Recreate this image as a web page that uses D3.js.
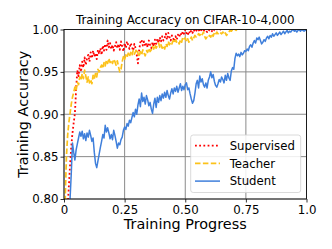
<!DOCTYPE html>
<meta charset="utf-8">
<script src="https://d3js.org/d3.v7.min.js"></script>
<style>
  body { margin: 0; background: #fff; }
  text { font-family: "DejaVu Sans", sans-serif; }
</style>
<div id="chart"></div>
<script>
// samples are logged every 0.005 of training progress
var stepSize = 0.005;

var supervised = [
  0.70,0.73,0.76,0.79,0.815,0.840,0.862,0.878,0.890,0.901,
  0.930,0.952,0.945,0.958,0.950,0.962,0.955,0.967,0.958,0.966,
  0.970,0.962,0.973,0.966,0.975,0.968,0.972,0.965,0.976,0.971,
  0.978,0.970,0.981,0.975,0.983,0.976,0.987,0.979,0.984,0.977,
  0.982,0.975,0.980,0.985,0.978,0.983,0.976,0.986,0.980,0.974,
  0.984,0.978,0.986,0.981,0.977,0.984,0.980,0.975,0.983,0.978,
  0.970,0.960,0.976,0.985,0.988,0.981,0.986,0.980,0.984,0.979,
  0.987,0.982,0.978,0.985,0.980,0.988,0.983,0.989,0.984,0.991,
  0.986,0.992,0.987,0.990,0.995,0.988,0.996,0.991,0.987,0.993,
  0.990,0.986,0.992,0.988,0.994,0.991,0.996,0.993,0.998,0.995,
  1.000,0.996,0.993,0.998,0.995,0.999,0.996,1.000,0.997,0.999,
  0.998,1.000,0.997,0.999,1.000,0.998,1.000,0.999,0.997,1.000,
  0.999,1.000,0.998,1.001,0.999,1.000,1.001,0.999,1.001,1.000,
  1.001,1.002,1.002,1.003,1.003];

var teacher = [
  0.76,0.80,0.85,0.875,0.890,0.901,0.912,0.920,0.926,0.932,
  0.928,0.938,0.935,0.944,0.940,0.948,0.942,0.952,0.945,0.938,
  0.944,0.937,0.941,0.936,0.946,0.942,0.948,0.944,0.953,0.950,
  0.955,0.958,0.954,0.961,0.957,0.964,0.960,0.966,0.961,0.964,
  0.960,0.965,0.962,0.958,0.963,0.956,0.950,0.953,0.962,0.968,
  0.965,0.970,0.967,0.972,0.968,0.973,0.969,0.975,0.971,0.974,
  0.977,0.972,0.968,0.974,0.970,0.976,0.972,0.969,0.975,0.973,
  0.978,0.974,0.976,0.980,0.977,0.982,0.978,0.981,0.984,0.979,
  0.982,0.978,0.981,0.977,0.983,0.980,0.986,0.982,0.985,0.983,
  0.987,0.984,0.988,0.985,0.986,0.983,0.988,0.985,0.991,0.989,
  0.990,0.986,0.989,0.985,0.988,0.991,0.987,0.990,0.993,0.991,
  0.992,0.995,0.993,0.996,0.994,0.997,0.992,0.989,0.991,0.990,
  0.993,0.991,0.995,0.992,0.996,0.994,0.997,0.995,0.997,0.996,
  0.995,0.997,0.994,0.996,0.993,0.995,0.997,0.999,0.998,1.000,
  0.999,1.000,0.999,1.001,1.000,1.001,1.001,1.002,1.001,1.002,
  1.003,1.003];

var student = [
  0.70,0.72,0.74,0.76,0.78,0.80,0.83,0.866,0.855,0.846,
  0.858,0.865,0.872,0.879,0.874,0.880,0.871,0.877,0.869,0.878,
  0.873,0.881,0.875,0.868,0.872,0.855,0.842,0.837,0.845,0.853,
  0.861,0.868,0.876,0.872,0.887,0.879,0.884,0.878,0.871,0.876,
  0.870,0.881,0.875,0.868,0.860,0.866,0.864,0.870,0.873,0.881,
  0.885,0.882,0.889,0.886,0.893,0.890,0.896,0.902,0.897,0.906,
  0.900,0.911,0.918,0.909,0.925,0.915,0.920,0.912,0.922,0.917,
  0.910,0.914,0.906,0.901,0.912,0.919,0.908,0.920,0.914,0.922,
  0.916,0.924,0.919,0.926,0.920,0.928,0.922,0.918,0.925,0.930,
  0.924,0.931,0.927,0.933,0.926,0.931,0.936,0.928,0.933,0.929,
  0.935,0.937,0.929,0.931,0.924,0.918,0.913,0.916,0.925,0.936,
  0.940,0.931,0.945,0.938,0.942,0.935,0.932,0.937,0.931,0.940,
  0.944,0.950,0.943,0.947,0.939,0.934,0.932,0.936,0.941,0.938,
  0.944,0.941,0.937,0.946,0.940,0.948,0.943,0.940,0.951,0.955,
  0.953,0.966,0.972,0.969,0.971,0.968,0.973,0.970,0.972,0.975,
  0.974,0.977,0.975,0.980,0.982,0.979,0.984,0.987,0.984,0.990,
  0.988,0.991,0.987,0.983,0.985,0.988,0.986,0.990,0.992,0.989,
  0.993,0.991,0.995,0.992,0.994,0.996,0.993,0.995,0.997,0.994,
  0.996,0.998,0.995,0.997,0.999,0.996,0.998,0.997,0.999,1.000,
  0.998,0.999,0.997,0.999,1.000,0.998,1.000,0.999,0.998,0.999,
  1.000];

var xTicks = [0, 0.25, 0.5, 0.75, 1.0];
var xTickLabels = ["0", "0.25", "0.50", "0.75", "1.0"];
var yTicks = [0.80, 0.85, 0.90, 0.95, 1.00];

var series = [
  {name: "Supervised", values: supervised, color: "#ff0000", dash: "1.8,2.4", lw: 1.8},
  {name: "Teacher", values: teacher, color: "#fcc21a", dash: "5.5,2.4", lw: 1.7},
  {name: "Student", values: student, color: "#3f7fdb", dash: null, lw: 1.5}
];

var W = 332, H = 249;
var margin = {top: 29.5, right: 25.5, bottom: 50, left: 64};
var width = W - margin.left - margin.right,
    height = H - margin.top - margin.bottom;

var svg = d3.select("#chart").append("svg")
    .attr("width", W)
    .attr("height", H);

var g = svg.append("g")
    .attr("transform", "translate(" + margin.left + "," + margin.top + ")");

var x = d3.scaleLinear().domain([0, 1]).range([0, width]);
var y = d3.scaleLinear().domain([0.80, 1.00]).range([height, 0]);

// grid
g.append("g").selectAll("line")
  .data(xTicks).enter().append("line")
    .attr("x1", function(d) { return x(d); })
    .attr("x2", function(d) { return x(d); })
    .attr("y1", 0).attr("y2", height)
    .style("stroke", "#8a8a8a").style("stroke-width", 1);
g.append("g").selectAll("line")
  .data(yTicks).enter().append("line")
    .attr("y1", function(d) { return y(d); })
    .attr("y2", function(d) { return y(d); })
    .attr("x1", 0).attr("x2", width)
    .style("stroke", "#8a8a8a").style("stroke-width", 1);

// clip the curves to the axes box
svg.append("defs").append("clipPath").attr("id", "clip")
  .append("rect").attr("width", width).attr("height", height);

var line = d3.line()
    .x(function(d, i) { return x(i * stepSize); })
    .y(function(d) { return y(d); });

g.append("g").attr("clip-path", "url(#clip)")
  .selectAll("path")
  .data(series).enter().append("path")
    .attr("d", function(s) { return line(s.values); })
    .style("fill", "none")
    .style("stroke", function(s) { return s.color; })
    .style("stroke-width", function(s) { return s.lw; })
    .style("stroke-dasharray", function(s) { return s.dash; })
    .style("stroke-linejoin", "round");

// axes
var xAxis = g.append("g")
    .attr("transform", "translate(0," + height + ")")
    .call(d3.axisBottom(x).tickValues(xTicks)
      .tickFormat(function(d, i) { return xTickLabels[i]; })
      .tickSize(3.5).tickPadding(3.5));
var yAxis = g.append("g")
    .call(d3.axisLeft(y).tickValues(yTicks)
      .tickFormat(d3.format(".2f"))
      .tickSize(3.5).tickPadding(2));
[xAxis, yAxis].forEach(function(a) {
  a.select(".domain").remove();
  a.selectAll("line").style("stroke", "#000").style("stroke-width", 0.8);
  a.selectAll("text").style("font-size", "11.8px")
    .style("font-family", "DejaVu Sans").style("fill", "#000");
});

// box
g.append("rect")
    .attr("width", width).attr("height", height)
    .style("fill", "none").style("stroke", "#000").style("stroke-width", 0.8);

// title and labels
svg.append("text")
    .attr("x", margin.left + width / 2).attr("y", 23.5)
    .attr("text-anchor", "middle")
    .style("font-size", "11.9px")
    .text("Training Accuracy on CIFAR-10-4,000");

svg.append("text")
    .attr("x", margin.left + width / 2).attr("y", 229)
    .attr("text-anchor", "middle")
    .style("font-size", "14.4px")
    .text("Training Progress");

svg.append("text")
    .attr("transform", "translate(28," + (margin.top + height / 2) + ") rotate(-90)")
    .attr("text-anchor", "middle")
    .style("font-size", "14.4px")
    .text("Training Accuracy");

// legend
var lg = svg.append("g").attr("transform", "translate(190.7,135)");
lg.append("rect")
    .attr("width", 110).attr("height", 57.5)
    .attr("rx", 2.5).attr("ry", 2.5)
    .style("fill", "#fff").style("fill-opacity", 0.85)
    .style("stroke", "#d0d0d0").style("stroke-width", 0.8);

var items = lg.selectAll(".item")
  .data(series).enter().append("g")
    .attr("transform", function(d, i) { return "translate(0," + (10.7 + i * 17.7) + ")"; });
items.append("line")
    .attr("x1", 4.3).attr("x2", 29.3)
    .style("stroke", function(s) { return s.color; })
    .style("stroke-width", function(s) { return s.lw; })
    .style("stroke-dasharray", function(s) { return s.dash; });
items.append("text")
    .attr("x", 39).attr("y", 4.2)
    .style("font-size", "11.7px")
    .text(function(s) { return s.name; });
</script>
